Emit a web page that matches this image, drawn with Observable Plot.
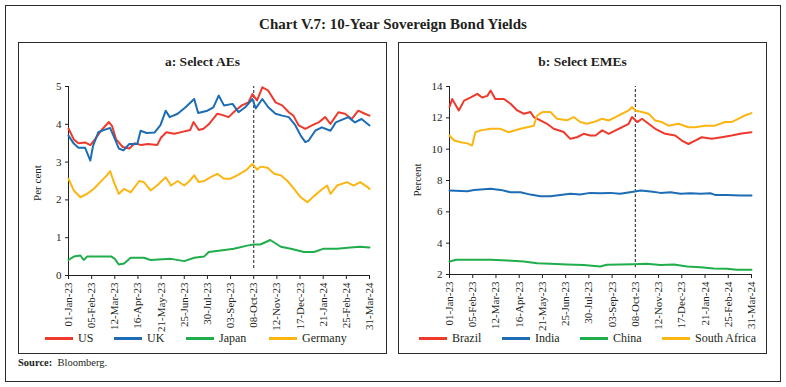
<!DOCTYPE html>
<html>
<head>
<meta charset="utf-8">
<script src="https://cdn.jsdelivr.net/npm/d3@7"></script>
<script src="https://cdn.jsdelivr.net/npm/@observablehq/plot@0.6"></script>
<style>
  html, body { margin: 0; padding: 0; background: #fff; }
  body { width: 786px; height: 387px; position: relative; overflow: hidden; font-family: "Liberation Serif", "DejaVu Serif", serif; color: #231f20; }
  .box { position: absolute; border: 1px solid #2b2b2b; box-sizing: border-box; }
  .title { position: absolute; left: 0; width: 786px; top: 16px; text-align: center; font-weight: bold; font-size: 15px; }
  .sub { position: absolute; text-align: center; font-weight: bold; font-size: 13.5px; }
  .chart { position: absolute; }
  .ylab { position: absolute; font-size: 11px; width: 80px; text-align: center; transform: rotate(-90deg); transform-origin: center center; line-height: 12px; }
  .leg { position: absolute; font-size: 12px; display: flex; align-items: center; white-space: nowrap; }
  .sw { display: inline-block; width: 28px; height: 3px; margin-right: 5px; }
  .src { position: absolute; left: 18px; top: 357px; font-size: 10.5px; }
</style>
</head>
<body>
<div class="box" style="left:5px;top:5px;width:776px;height:377px;"></div>
<div class="title">Chart V.7: 10-Year Sovereign Bond Yields</div>

<div class="box" style="left:18px;top:42px;width:369px;height:312px;"></div>
<div class="sub" style="left:18px;width:369px;top:54px;">a: Select AEs</div>
<div class="chart" id="chartA" style="left:19px;top:70px;"></div>
<div class="ylab" style="left:-3px;top:177px;">Per cent</div>

<div class="box" style="left:398px;top:42px;width:369px;height:312px;"></div>
<div class="sub" style="left:398px;width:369px;top:54px;">b: Select EMEs</div>
<div class="chart" id="chartB" style="left:398px;top:70px;"></div>
<div class="ylab" style="left:377px;top:174px;">Percent</div>

<div class="src"><b>Source:</b>&nbsp; Bloomberg.</div>

<script>
// ---------- Data ----------
const xTicks = ["2023-01-01","2023-02-05","2023-03-12","2023-04-16","2023-05-21","2023-06-25","2023-07-30",
  "2023-09-03","2023-10-08","2023-11-12","2023-12-17","2024-01-21","2024-02-25","2024-03-31"];
const eventDate = "2023-10-08";

// Panel a: Select AEs
const usSeries = [["2023-01-01",3.89],["2023-01-09",3.6],["2023-01-16",3.5],["2023-01-26",3.52],["2023-02-03",3.45],
  ["2023-02-10",3.6],["2023-02-20",3.85],["2023-03-03",4.06],["2023-03-08",3.95],["2023-03-14",3.6],["2023-03-24",3.4],
  ["2023-04-03",3.36],["2023-04-11",3.5],["2023-04-21",3.45],["2023-05-01",3.48],["2023-05-15",3.45],["2023-05-21",3.65],
  ["2023-05-29",3.79],["2023-06-10",3.75],["2023-06-22",3.8],["2023-07-04",3.85],["2023-07-09",4.06],["2023-07-17",3.85],
  ["2023-07-24",3.88],["2023-08-01",4.0],["2023-08-14",4.28],["2023-08-21",4.25],["2023-08-31",4.19],["2023-09-10",4.36],
  ["2023-09-20",4.5],["2023-09-30",4.58],["2023-10-06",4.8],["2023-10-13",4.63],["2023-10-21",4.98],["2023-10-30",4.89],
  ["2023-11-10",4.58],["2023-11-20",4.5],["2023-11-30",4.32],["2023-12-07",4.23],["2023-12-15",3.97],["2023-12-25",3.88],
  ["2024-01-04",3.97],["2024-01-14",4.05],["2024-01-24",4.19],["2024-02-01",4.01],["2024-02-13",4.32],["2024-02-23",4.28],
  ["2024-03-04",4.14],["2024-03-14",4.36],["2024-03-24",4.28],["2024-03-31",4.23]];
const ukSeries = [["2023-01-01",3.7],["2023-01-09",3.49],["2023-01-16",3.38],["2023-01-26",3.38],["2023-02-03",3.04],
  ["2023-02-07",3.42],["2023-02-15",3.79],["2023-02-25",3.86],["2023-03-05",3.9],["2023-03-10",3.7],["2023-03-18",3.36],
  ["2023-03-25",3.31],["2023-04-03",3.48],["2023-04-15",3.48],["2023-04-20",3.83],["2023-04-29",3.77],["2023-05-11",3.78],
  ["2023-05-20",3.98],["2023-05-28",4.36],["2023-06-03",4.19],["2023-06-15",4.28],["2023-06-27",4.45],["2023-07-10",4.67],
  ["2023-07-16",4.3],["2023-07-30",4.36],["2023-08-08",4.45],["2023-08-16",4.76],["2023-08-24",4.5],["2023-09-06",4.54],
  ["2023-09-15",4.32],["2023-09-25",4.45],["2023-10-06",4.67],["2023-10-11",4.42],["2023-10-21",4.67],["2023-10-30",4.45],
  ["2023-11-10",4.28],["2023-11-20",4.23],["2023-11-30",4.19],["2023-12-10",3.97],["2023-12-18",3.7],["2023-12-25",3.53],
  ["2023-12-30",3.57],["2024-01-09",3.83],["2024-01-19",3.92],["2024-02-01",3.83],["2024-02-09",4.05],["2024-02-28",4.19],
  ["2024-03-09",4.05],["2024-03-19",4.14],["2024-03-31",3.97]];
const japanSeries = [["2023-01-01",0.41],["2023-01-09",0.5],["2023-01-19",0.53],["2023-01-24",0.41],["2023-01-29",0.5],
  ["2023-03-07",0.5],["2023-03-12",0.44],["2023-03-18",0.29],["2023-03-26",0.32],["2023-04-05",0.47],["2023-04-25",0.47],
  ["2023-05-05",0.41],["2023-06-05",0.44],["2023-06-25",0.38],["2023-07-10",0.47],["2023-07-25",0.5],["2023-08-01",0.62],
  ["2023-08-19",0.66],["2023-09-08",0.71],["2023-09-28",0.79],["2023-10-08",0.82],["2023-10-18",0.82],["2023-11-02",0.94],
  ["2023-11-18",0.76],["2023-12-03",0.71],["2023-12-23",0.62],["2024-01-07",0.62],["2024-01-22",0.71],["2024-02-11",0.71],
  ["2024-03-02",0.74],["2024-03-17",0.76],["2024-03-31",0.74]];
const germanySeries = [["2023-01-01",2.56],["2023-01-09",2.25],["2023-01-19",2.07],["2023-01-29",2.16],["2023-02-08",2.29],
  ["2023-02-18",2.47],["2023-02-28",2.65],["2023-03-05",2.76],["2023-03-10",2.5],["2023-03-18",2.16],["2023-03-26",2.29],
  ["2023-04-05",2.2],["2023-04-18",2.5],["2023-04-25",2.47],["2023-05-05",2.25],["2023-05-15",2.38],["2023-05-28",2.6],
  ["2023-06-05",2.38],["2023-06-15",2.5],["2023-06-25",2.38],["2023-07-03",2.5],["2023-07-10",2.65],["2023-07-17",2.47],
  ["2023-07-25",2.5],["2023-08-04",2.6],["2023-08-14",2.69],["2023-08-24",2.56],["2023-09-03",2.56],["2023-09-13",2.65],
  ["2023-09-26",2.78],["2023-10-06",2.95],["2023-10-13",2.8],["2023-10-18",2.88],["2023-10-29",2.85],["2023-11-08",2.69],
  ["2023-11-18",2.65],["2023-11-28",2.5],["2023-12-08",2.29],["2023-12-18",2.07],["2023-12-28",1.94],["2024-01-07",2.1],
  ["2024-01-17",2.25],["2024-01-27",2.38],["2024-02-01",2.16],["2024-02-11",2.38],["2024-02-26",2.47],["2024-03-07",2.38],
  ["2024-03-17",2.47],["2024-03-28",2.34],["2024-03-31",2.29]];

// Panel b: Select EMEs
const brazilSeries = [["2023-01-01",12.7],["2023-01-05",13.2],["2023-01-15",12.47],["2023-01-23",13.1],["2023-02-02",13.3],
  ["2023-02-12",13.53],["2023-02-19",13.3],["2023-02-27",13.4],["2023-03-04",13.74],["2023-03-11",13.2],["2023-03-24",13.2],
  ["2023-04-03",12.9],["2023-04-13",12.47],["2023-04-23",12.26],["2023-05-03",12.37],["2023-05-08",12.05],["2023-05-18",11.84],
  ["2023-05-28",11.62],["2023-06-07",11.3],["2023-06-22",11.1],["2023-07-02",10.66],["2023-07-12",10.76],["2023-07-22",10.98],
  ["2023-08-01",10.87],["2023-08-09",10.87],["2023-08-19",11.2],["2023-08-29",10.98],["2023-09-08",11.2],["2023-09-18",11.4],
  ["2023-09-28",11.62],["2023-10-03",12.05],["2023-10-11",11.73],["2023-10-18",11.94],["2023-10-28",11.62],["2023-11-07",11.3],
  ["2023-11-22",10.98],["2023-12-07",10.87],["2023-12-17",10.55],["2023-12-27",10.33],["2024-01-06",10.55],["2024-01-16",10.76],
  ["2024-01-31",10.66],["2024-02-15",10.76],["2024-03-01",10.87],["2024-03-16",11.0],["2024-03-31",11.08]];
const indiaSeries = [["2023-01-01",7.36],["2023-01-28",7.32],["2023-02-07",7.4],["2023-03-04",7.47],["2023-03-19",7.4],
  ["2023-04-03",7.25],["2023-04-18",7.25],["2023-05-03",7.1],["2023-05-18",7.0],["2023-06-02",7.0],["2023-06-17",7.08],
  ["2023-07-02",7.15],["2023-07-17",7.1],["2023-08-01",7.21],["2023-08-16",7.19],["2023-08-31",7.21],["2023-09-15",7.15],
  ["2023-09-30",7.25],["2023-10-16",7.36],["2023-10-31",7.3],["2023-11-15",7.21],["2023-11-30",7.25],["2023-12-15",7.15],
  ["2023-12-30",7.19],["2024-01-14",7.15],["2024-01-29",7.19],["2024-02-05",7.08],["2024-02-23",7.08],["2024-03-14",7.04],
  ["2024-03-31",7.04]];
const chinaSeries = [["2023-01-01",2.83],["2023-01-11",2.94],["2023-03-04",2.94],["2023-03-29",2.89],["2023-04-23",2.83],
  ["2023-05-13",2.72],["2023-06-02",2.68],["2023-06-27",2.64],["2023-07-22",2.6],["2023-08-16",2.51],["2023-08-26",2.62],
  ["2023-09-15",2.64],["2023-10-05",2.66],["2023-10-25",2.68],["2023-11-15",2.6],["2023-12-05",2.64],["2023-12-25",2.51],
  ["2024-01-14",2.47],["2024-02-03",2.38],["2024-02-23",2.36],["2024-03-09",2.3],["2024-03-31",2.3]];
const southAfricaSeries = [["2023-01-01",10.87],["2023-01-08",10.55],["2023-01-18",10.44],["2023-01-28",10.37],["2023-02-04",10.23],
  ["2023-02-09",11.08],["2023-02-17",11.2],["2023-03-04",11.3],["2023-03-19",11.3],["2023-03-31",11.08],["2023-04-18",11.3],
  ["2023-05-08",11.5],["2023-05-13",12.15],["2023-05-21",12.37],["2023-06-02",12.37],["2023-06-12",11.94],["2023-06-27",11.84],
  ["2023-07-07",12.05],["2023-07-17",11.73],["2023-07-27",11.62],["2023-08-06",11.73],["2023-08-19",11.94],["2023-08-29",11.83],
  ["2023-09-08",12.05],["2023-09-18",12.26],["2023-09-28",12.47],["2023-10-03",12.69],["2023-10-08",12.47],["2023-10-18",12.37],
  ["2023-10-28",12.26],["2023-11-07",11.83],["2023-11-17",11.73],["2023-11-27",11.5],["2023-12-12",11.62],["2023-12-27",11.4],
  ["2024-01-06",11.4],["2024-01-21",11.5],["2024-02-05",11.5],["2024-02-20",11.73],["2024-03-01",11.73],["2024-03-11",11.94],
  ["2024-03-21",12.15],["2024-03-31",12.3]];

const seriesA = [
  {name: "US", data: usSeries, color: "#ee3a2c"},
  {name: "UK", data: ukSeries, color: "#1c6db5"},
  {name: "Japan", data: japanSeries, color: "#20ad4b"},
  {name: "Germany", data: germanySeries, color: "#fbb614"}
];
const seriesB = [
  {name: "Brazil", data: brazilSeries, color: "#ee3a2c"},
  {name: "India", data: indiaSeries, color: "#1c6db5"},
  {name: "China", data: chinaSeries, color: "#20ad4b"},
  {name: "South Africa", data: southAfricaSeries, color: "#fbb614"}
];

// ---------- Drawing ----------
const parse = d3.utcParse("%Y-%m-%d");
const fmt = d3.utcFormat("%d-%b-%y");
const tickDates = xTicks.map(parse);
const xDomain = [tickDates[0], tickDates[tickDates.length - 1]];

function panel(series, opts) {
  const rows = series.flatMap(s => s.data.map(([d, v]) => ({date: parse(d), value: v, name: s.name})));
  const marks = [
    Plot.ruleY([opts.yDomain[0]], {stroke: "#222", strokeWidth: 1}),
    Plot.ruleX([xDomain[0]], {stroke: "#222", strokeWidth: 1}),
    Plot.ruleX([parse(eventDate)], {y1: opts.yDomain[0], y2: opts.yDomain[1], insetTop: -7, stroke: "#333", strokeWidth: 1.1, strokeDasharray: "3,2"})
  ];
  for (const s of series) {
    marks.push(Plot.line(rows.filter(r => r.name === s.name), {x: "date", y: "value", stroke: s.color, strokeWidth: 2, curve: "linear"}));
  }
  return Plot.plot({
    width: opts.width,
    height: opts.height,
    marginLeft: opts.ml, marginRight: opts.mr, marginTop: opts.mt, marginBottom: opts.mb,
    style: {fontFamily: "Liberation Serif, DejaVu Serif, serif", fontSize: "11px", color: "#231f20", background: "transparent", overflow: "visible"},
    x: {type: "utc", domain: xDomain, ticks: tickDates, tickFormat: fmt, tickRotate: -90, tickSize: 4, tickPadding: 3, label: null},
    y: {domain: opts.yDomain, ticks: opts.yTicks, tickFormat: d3.format("d"), tickSize: 3, tickPadding: 4, label: null},
    marks
  });
}

function legend(series, lefts) {
  series.forEach((s, i) => {
    const el = document.createElement("div");
    el.className = "leg";
    el.style.left = lefts[i] + "px";
    el.style.top = "331px";
    el.innerHTML = `<span class="sw" style="background:${s.color}"></span><span>${s.name}</span>`;
    document.body.appendChild(el);
  });
}

document.getElementById("chartA").appendChild(panel(seriesA, {
  width: 367, height: 262, ml: 49, mr: 17, mt: 16, mb: 57,
  yDomain: [0, 5], yTicks: [0, 1, 2, 3, 4, 5]
}));
document.getElementById("chartB").appendChild(panel(seriesB, {
  width: 368, height: 262, ml: 51, mr: 15, mt: 16, mb: 58,
  yDomain: [2, 14], yTicks: [2, 4, 6, 8, 10, 12, 14]
}));

legend(seriesA, [45, 114, 186, 269]);
legend(seriesB, [419, 502, 580, 662]);
</script>
</body>
</html>
